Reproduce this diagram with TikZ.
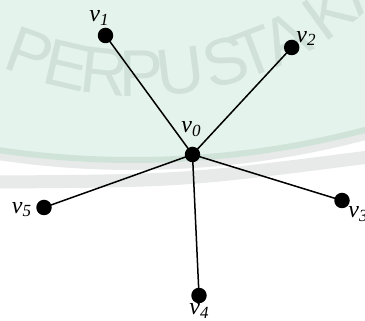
\documentclass[tikz,border=0pt]{standalone}
\usepackage{fontspec}
\setmainfont{Liberation Serif}
\newfontfamily\wmsans{Liberation Sans}
\definecolor{wmbg}{RGB}{228,243,236}
\definecolor{wmrim}{RGB}{208,227,217}
\definecolor{wmtxt}{RGB}{207,225,216}
\definecolor{wmgrey}{RGB}{232,233,233}
\newcommand{\vlab}[1]{{\fontsize{24}{24}\selectfont\itshape v\kern0.3pt\raisebox{-3.5pt}{\fontsize{17}{17}\selectfont #1}}}
\begin{document}
\begin{tikzpicture}[x=1pt,y=1pt,
  vertex/.style={circle,fill=black,inner sep=0pt,minimum size=15.5pt},
  vname/.style={inner sep=0pt},
  wmletter/.style={inner sep=0pt,anchor=base,text=wmtxt,font=\wmsans\fontsize{66}{66}\selectfont},
  edge/.style={line width=1.5pt}]
\useasboundingbox (0,0) rectangle (365,321);
\begin{scope}
\clip (0,0) rectangle (365,321);
\fill[white] (0,0) rectangle (365,321);
% watermark bands
\draw[wmgrey,line width=13pt] (-10,139) -- (0,139) .. controls (182.5,140.2) .. (365,163.5) -- (375,164.8);
\fill[wmgrey] (133,1064) circle[radius=913pt];
\fill[wmbg] (133,1064) circle[radius=906pt];
\draw[wmrim,line width=6pt] (133,1064) circle[radius=903pt];
% watermark text
\foreach \ch/\ang [count=\k] in {P/-110,E/-103.1,R/-96.3,P/-89.7,U/-82.8,S/-74.5,T/-69.3,A/-63.1,K/-54,A/-46.9,A/-39.8,N/-32.5}
  \node[wmletter,rotate=\ang+90] (w\k) at ([shift={(\ang:345pt)}]140,570) {\ch};
\end{scope}
% graph
\node[vertex] (v0) at (192.5,166.5) {};
\node[vertex] (v1) at (105.5,285.5) {};
\node[vertex] (v2) at (291.7,273.5) {};
\node[vertex] (v3) at (342,120.5) {};
\node[vertex] (v4) at (199,25.5) {};
\node[vertex] (v5) at (44,113.5) {};
\foreach \i in {1,...,5} \draw[edge] (v0.center) -- (v\i.center);
\node[vname] (l0) at (191,192) {\vlab{0}};
\node[vname] (l1) at (99,303) {\vlab{1}};
\node[vname] (l2) at (306,282.5) {\vlab{2}};
\node[vname] (l3) at (358,107) {\vlab{3}};
\node[vname] (l4) at (199,10) {\vlab{4}};
\node[vname] (l5) at (21.5,111.5) {\vlab{5}};
\end{tikzpicture}
\end{document}
